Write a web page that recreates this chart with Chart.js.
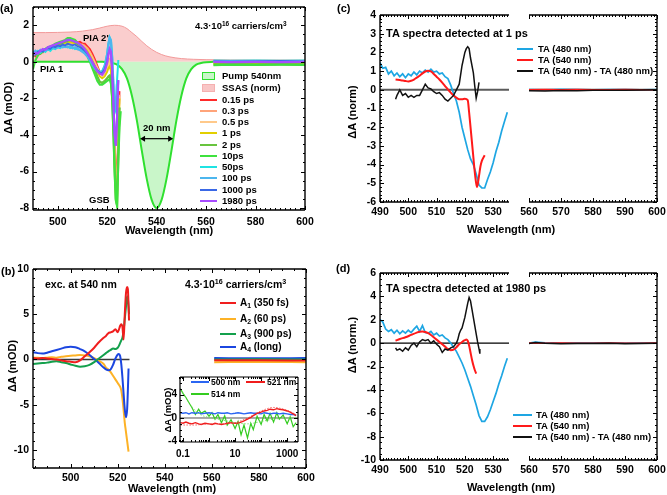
<!DOCTYPE html>
<html><head><meta charset="utf-8">
<script src="https://cdn.jsdelivr.net/npm/chart.js@4.4.1/dist/chart.umd.min.js"></script>
<style>
html,body{margin:0;padding:0;background:#fff}
body{width:667px;height:495px;position:relative;overflow:hidden;font-family:"Liberation Sans",Arial,Helvetica,sans-serif;color:#000}
canvas{position:absolute;left:0;top:0}
.t{position:absolute;white-space:nowrap;font-weight:bold;line-height:1}
.t sup{font-size:0.68em;vertical-align:0.55em;line-height:0}
.t sub{font-size:0.68em;vertical-align:-0.25em;line-height:0}
.ln{position:absolute;height:2px}
.bx{position:absolute;box-sizing:border-box}
</style></head><body>
<canvas id="ca" width="667" height="495"></canvas>
<canvas id="cb" width="667" height="495"></canvas>
<canvas id="cin" width="667" height="495"></canvas>
<canvas id="ccl" width="667" height="495"></canvas>
<canvas id="ccr" width="667" height="495"></canvas>
<canvas id="cdl" width="667" height="495"></canvas>
<canvas id="cdr" width="667" height="495"></canvas>
<script>
// ================= DATA =================
// ---- Panel (a): TA spectra (mOD) at delay times ----
const A_WL = [490,491,492,493,494,495,496,497,498,499,500,501,502,503,504,505,506,507,508,509,510,511,512,513,514,515,516,517,518,519,520,520.5,521,521.5,522,522.5,523,523.5,524,524.5,525,525.5];
const A_015 = [0.45,0.3,0.5,0.45,0.6,0.7,0.65,0.8,0.75,0.85, 0.8,0.95,0.85,1.0,0.95,1.05,1.0,1.1,1.05,1.1, 1.0,1.0,0.85,0.7,0.45,0.15,-0.2,-0.55,-0.75,-0.65, -0.35,-0.1,0.05,-0.2,-0.9,-2.4,-4.3,-5.9,-6.1,-3.8,-1.6,null];
const A_03  = [0.4,0.45,0.35,0.55,0.5,0.65,0.7,0.75,0.7,0.85, 0.9,0.85,0.95,1.0,1.05,1.0,1.05,1.0,1.05,0.95, 0.95,0.85,0.75,0.55,0.3,0.0,-0.3,-0.6,-0.7,-0.6, -0.3,-0.05,0.1,-0.15,-1.0,-2.6,-4.6,-6.3,-6.6,-4.0,-1.8,null];
const A_05  = [0.5,0.4,0.55,0.5,0.65,0.6,0.75,0.7,0.85,0.8, 0.9,0.95,1.0,0.95,1.05,1.1,1.05,1.0,1.0,0.9, 0.9,0.8,0.65,0.45,0.2,-0.1,-0.35,-0.65,-0.75,-0.65, -0.4,-0.15,0.0,-0.3,-1.1,-2.8,-4.9,-6.6,-6.9,-4.2,-1.9,null];
const A_1   = [0.35,0.5,0.45,0.6,0.55,0.7,0.65,0.8,0.85,0.8, 0.95,0.9,1.0,1.05,1.0,1.1,1.05,1.0,0.95,0.95, 0.85,0.75,0.6,0.35,0.1,-0.2,-0.5,-0.8,-0.9,-0.8, -0.55,-0.35,-0.25,-0.5,-1.4,-3.2,-5.4,-7.2,-7.5,-4.5,-2.0,null];
const A_2   = [0.3,0.4,0.5,0.45,0.6,0.7,0.75,0.7,0.85,0.9, 0.95,1.0,1.05,1.1,1.15,1.2,1.15,1.1,1.0,0.9, 0.8,0.65,0.45,0.2,-0.1,-0.45,-0.8,-1.1,-1.15,-1.05, -0.9,-0.8,-0.75,-1.0,-1.8,-3.6,-5.8,-7.5,-7.8,-5.0,-2.5,null];
const A_10  = [-0.4,0.1,0.35,0.5,0.55,0.7,0.8,0.85,0.9,1.0, 1.05,1.1,1.15,1.2,1.3,1.3,1.25,1.2,1.05,0.9, 0.75,0.55,0.3,0.0,-0.35,-0.7,-1.05,-1.25,-1.25,-1.15, -1.05,-1.0,-0.95,-1.2,-2.0,-3.8,-6.0,-7.6,-7.9,-5.5,-3.6,-2.7];
const A_50  = [0.55,0.45,0.6,0.5,0.65,0.55,0.7,0.6,0.75,0.7, 0.8,0.75,0.85,0.8,0.85,0.75,0.8,0.7,0.75,0.65, 0.6,0.5,0.35,0.15,-0.1,-0.3,-0.45,-0.55,-0.5,-0.2, 0.45,1.0,1.35,1.2,0.3,-1.2,-2.5,-2.7,-1.0,0.1,null,null];
const A_100 = [0.45,0.6,0.5,0.65,0.6,0.7,0.65,0.75,0.8,0.75, 0.8,0.85,0.8,0.85,0.8,0.85,0.75,0.8,0.7,0.65, 0.55,0.45,0.3,0.1,-0.15,-0.35,-0.5,-0.6,-0.55,-0.25, 0.4,0.95,1.3,1.15,0.2,-1.3,-2.6,-2.5,-1.2,null,null,null];
const A_1000= [0.5,0.4,0.55,0.6,0.55,0.7,0.75,0.7,0.85,0.8, 0.9,0.85,0.95,0.9,1.0,0.95,0.9,0.95,0.85,0.8, 0.7,0.6,0.45,0.25,0.0,-0.25,-0.45,-0.6,-0.6,-0.4, 0.05,0.45,0.65,0.5,-0.5,-2.2,-3.9,-4.5,-2.8,-1.0,null,null];
const A_1980= [0.35,0.5,0.45,0.6,0.7,0.65,0.8,0.85,0.9,0.95, 1.0,1.05,1.1,1.15,1.2,1.2,1.15,1.1,1.05,0.95, 0.85,0.7,0.5,0.25,0.0,-0.25,-0.5,-0.65,-0.7,-0.5, -0.05,0.4,0.7,0.55,-0.5,-2.3,-4.0,-4.6,-3.0,-1.0,null,null];
const A_TAIL_WL = [563,570,580,590,600];
const A_TAIL = {
  '015':[-0.02,-0.03,-0.02,-0.03,-0.02], '03':[-0.08,-0.07,-0.08,-0.07,-0.08], '05':[-0.05,-0.05,-0.04,-0.05,-0.05],
  '1':[-0.1,-0.09,-0.1,-0.1,-0.09], '2':[-0.14,-0.13,-0.14,-0.13,-0.14], '10':[-0.18,-0.16,-0.17,-0.16,-0.17],
  '50':[0.08,0.06,0.07,0.06,0.07], '100':[0.04,0.03,0.04,0.03,0.04], '1000':[0.02,0.01,0.02,0.05,0.01], '1980':[0.0,-0.01,0.0,-0.01,0.0]
};
const PUMP_WL = [490,500,510,518,520,522,524,526,528,530,532,534,536,538,540,542,544,546,548,550,552,554,556,558,560,563];
const PUMP    = [0,0,0,0,-0.02,-0.06,-0.15,-0.4,-0.9,-1.85,-3.2,-4.85,-6.4,-7.55,-8.0,-7.55,-6.4,-4.85,-3.2,-1.85,-0.9,-0.4,-0.15,-0.06,-0.02,0];
const SSAS_WL = [490,495,500,505,510,514,517,520,523,526,528,530,532,534,536,538,540,542,545,550,555,560,580,600];
const SSAS    = [1.6,1.6,1.61,1.63,1.68,1.76,1.85,1.95,2.0,1.95,1.82,1.6,1.38,1.12,0.88,0.68,0.52,0.4,0.28,0.18,0.14,0.12,0.1,0.1];
const A_XTICKS = [500,520,540,560,580,600];
const A_YTICKS = [-8,-6,-4,-2,0,2];
const A_ARROW = [533.3, 546.7, -4.2];

// ---- Panel (b): decay-associated amplitudes ----
const B_WL = [484,486,488,490,492,494,496,498,500,502,504,506,508,510,512,514,515,516,517,518,519,520,520.5,521,521.5,522,522.5,523,523.5,524,524.3,524.6,524.8];
const B_A1 = [0.15,0.1,0.15,0.1,0.05,0.0,-0.1,-0.2,-0.25,-0.3,-0.1,0.35,0.8,1.3,1.9,2.4,2.6,2.9,3.0,3.1,3.35,3.0,3.3,3.7,3.9,3.6,2.2,5.0,7.3,8.0,7.8,6.0,4.3];
const B_A2 = [0.2,0.2,0.15,0.2,0.25,0.2,0.3,0.35,0.4,0.45,0.5,0.45,0.35,0.15,-0.15,-0.5,-0.9,-1.1,-1.4,-1.8,-2.2,-2.6,-2.8,-3.0,-3.4,-4.3,-5.6,-7.0,-8.0,-9.0,-9.6,-10.2,null];
const B_A3 = [-0.5,-0.45,-0.4,-0.35,-0.25,-0.2,-0.3,-0.4,-0.55,-0.7,-0.8,-0.75,-0.6,-0.3,0.1,0.5,0.7,0.9,1.05,1.2,1.15,1.3,1.5,1.8,2.1,2.4,3.2,4.5,5.8,7.0,6.8,5.8,5.0];
const B_A4 = [0.8,0.7,0.65,0.75,0.9,1.05,1.2,1.35,1.4,1.35,1.15,0.9,0.5,0.05,-0.4,-0.9,-1.1,-1.2,-1.1,-0.6,0.1,0.55,0.6,0.4,-0.5,-2.0,-3.8,-5.5,-6.4,-5.5,-3.5,-1.0,null];
const B_TAIL_WL = [561,580,600];
const B_TAIL_A1 = [-0.1,-0.1,-0.12];
const B_TAIL_A2 = [-0.3,-0.28,-0.3];
const B_TAIL_A3 = [0.0,0.02,0.0];
const B_TAIL_A4 = [0.15,0.13,0.15];
const B_XTICKS = [500,520,540,560,580,600];
const B_YTICKS = [-10,-5,0,5,10];

// ---- Panel (b) inset: kinetics (mOD) vs delay (ps) ----
const IN_T = [0.08,0.1,0.13,0.17,0.22,0.3,0.4,0.5,0.7,1,1.3,1.7,2.2,3,4,5,7,10,13,17,22,30,40,50,70,100,130,170,220,300,400,500,700,1000,1300,1700,2200];
const IN_500 = [0.9,0.8,0.9,0.7,0.9,0.8,0.9,0.7,0.8,0.9,0.8,0.7,0.9,0.8,0.8,0.9,0.7,0.8,0.9,0.8,0.7,0.8,0.9,0.8,0.8,0.7,0.9,0.8,0.7,0.8,0.8,0.7,0.8,0.7,0.6,0.6,0.5];
const IN_521 = [-0.8,-0.9,-0.7,-0.9,-1.0,-0.8,-1.0,-1.1,-0.9,-1.0,-1.1,-0.9,-1.0,-1.1,-1.0,-0.9,-0.8,-0.9,-0.9,-0.7,-0.5,-0.2,0.1,0.4,0.8,1.0,1.2,1.3,1.5,1.4,1.6,1.5,1.4,1.2,1.0,0.7,0.4];
const IN_514 = [5.0,4.2,3.5,2.6,1.8,0.6,1.5,0.8,1.2,0.3,0.9,-0.2,0.6,-0.8,0.4,-1.2,-0.3,-1.8,-0.6,-2.9,-1.2,-3.4,-0.9,-2.0,0.3,-1.1,0.6,-0.5,0.8,-0.7,0.9,-0.2,0.5,-1.0,0.2,-1.5,-0.8];
const IN_FIT_T = [0.08,0.1,0.15,0.2,0.3,0.5,1,3,10,30,100,300,1000,2200];
const IN_FIT_514 = [5.0,4.3,3.0,2.2,1.2,0.5,0.1,-0.3,-0.8,-1.0,-0.6,-0.2,0.0,0.1];
const IN_FIT_521 = [-1.2,-1.2,-1.2,-1.2,-1.2,-1.1,-1.0,-1.0,-0.8,0.0,1.2,1.8,1.3,0.6];
const IN_XTICKS = [0.1,10,1000];
const IN_YTICKS = [-4,0,4];

// ---- Panel (c): TA at 1 ps (norm) ----
const C_BLUE_WL = [490,491,492,493,494,495,496,497,498,499,500,501,502,503,504,505,506,507,508,509,510,511,512,513,514,515,516,517,518,519,520,521,522,523,524,525,526,527,528,529,530,531,532,533,534,535];
const C_BLUE = [1.45,1.15,1.2,0.85,1.0,0.75,0.9,0.7,0.85,0.65, 0.85,0.75,0.95,0.8,1.0,0.9,1.05,0.95,1.1,0.95, 1.0,0.85,0.9,0.7,0.6,0.25,-0.2,-0.6,-1.2,-2.0, -2.6,-3.2,-3.7,-4.0,-4.5,-5.1,-5.25,-5.25,-4.8,-4.4, -3.9,-3.3,-2.8,-2.2,-1.7,-1.2];
const C_RED_WL = [495.5,497,498,499,500,501,502,503,504,505,506,507,508,509,510,511,512,513,514,515,516,517,518,519,520,521,521.5,522,522.5,523,523.5,524,524.3,525,525.5,526,527];
const C_RED = [0.55,0.52,0.5,0.47,0.45,0.48,0.55,0.65,0.75,0.88,0.98,1.02,0.98,0.85,0.7,0.55,0.38,0.2,0.02,-0.15,-0.3,-0.42,-0.5,-0.5,-0.48,-0.55,-1.2,-2.0,-2.8,-3.6,-4.4,-5.0,-5.2,-4.6,-4.1,-3.8,-3.5];
const C_DIFF_WL = [495.5,496,497,498,499,500,501,502,503,504,505,506,507,508,509,510,511,512,513,514,515,516,517,518,519,520,520.5,521,521.5,522,523,523.5,524,524.5,525];
const C_DIFF = [-0.5,-0.3,0.0,-0.3,-0.2,-0.4,-0.3,-0.4,-0.3,-0.3,0.0,0.3,0.1,0.05,-0.1,-0.2,-0.15,-0.3,-0.5,-0.6,-0.45,-0.3,0.0,0.3,1.3,2.0,2.2,2.3,2.2,1.7,0.9,0.2,-0.45,-0.1,0.4];
const C_R_WL = [560,565,570,575,580,585,590,595,600];
const C_R_BLUE = [0.02,0.0,0.03,0.01,0.0,0.02,0.01,0.0,0.02];
const C_R_RED = [0.0,0.01,0.0,0.01,0.0,0.0,0.01,0.0,0.0];
const C_R_DIFF = [-0.05,-0.06,-0.04,-0.05,-0.03,-0.02,-0.02,-0.01,0.0];
const C_XTICKS_L = [490,500,510,520,530];
const C_XTICKS_R = [560,570,580,590,600];
const C_YTICKS = [-6,-5,-4,-3,-2,-1,0,1,2,3,4];

// ---- Panel (d): TA at 1980 ps (norm.) ----
const D_BLUE_WL = C_BLUE_WL;
const D_BLUE = [2.0,1.8,1.2,1.0,1.15,0.85,1.1,0.8,1.05,0.85, 1.1,0.9,1.2,1.45,1.0,1.5,0.9,0.85,1.0,0.7, 0.85,0.6,0.7,0.45,0.3,0.0,-0.35,-0.7,-1.2,-1.7, -2.3,-3.0,-3.7,-4.5,-5.3,-6.2,-6.7,-6.7,-6.3,-5.7, -5.0,-4.3,-3.5,-2.8,-2.0,-1.3];
const D_RED_WL = [495.5,497,499,501,503,504,505,506,507,508,509,510,511,512,513,514,515,516,517,518,519,520,520.5,521,521.5,522,522.5,523,523.5,524];
const D_RED = [0.2,0.35,0.5,0.7,0.9,0.98,1.0,0.95,0.85,0.7,0.5,0.3,0.1,-0.1,-0.3,-0.5,-0.6,-0.55,-0.35,-0.1,0.1,0.25,0.3,0.2,-0.2,-0.8,-1.4,-1.9,-2.3,-2.6];
const D_DIFF_WL = [495.5,496,497,498,499,500,501,502,503,504,505,506,507,508,509,510,511,512,513,514,515,516,517,517.5,518,518.5,519,520,521,521.5,522,522.5,523,523.5,524,524.5,525,525.3];
const D_DIFF = [-0.4,-0.6,-0.5,-0.7,-0.4,-0.6,-0.2,0.0,-0.3,0.1,0.3,0.2,0.3,0.0,0.2,-0.1,-0.3,-0.8,-0.5,-0.6,-0.4,-0.3,0.0,0.3,0.8,1.1,1.3,2.2,3.4,3.9,3.6,2.9,2.2,1.5,0.8,0.1,-0.5,-0.9];
const D_R_WL = [560,562,565,570,575,580,585,590,595,600];
const D_R_BLUE = [0.02,0.1,0.03,0.0,0.02,0.01,0.03,0.0,0.02,0.01];
const D_R_RED = [0.0,0.02,0.0,0.01,-0.01,0.0,0.01,0.0,0.0,0.01];
const D_R_DIFF = [-0.03,0.05,-0.02,-0.05,-0.03,-0.04,-0.02,-0.05,-0.03,-0.02];
const D_YTICKS = [-10,-8,-6,-4,-2,0,2,4,6];

// ================= RENDERING =================
const FONT = '"Liberation Sans", Arial, Helvetica, sans-serif';
Chart.defaults.font.family = FONT;
Chart.defaults.font.weight = 'bold';
Chart.defaults.color = '#000';

const pts = (xs, ys) => xs.map((x, i) => ({x, y: ys[i] === undefined ? null : ys[i]}));
const gap = x => [{x, y: null}];
const range = (a, b, s) => { const r = []; for (let v = a; v <= b + 1e-9; v += s) r.push(+v.toFixed(4)); return r; };

const FRAMES = {};
Chart.register({
  id: 'frame',
  beforeDatasetsDraw(chart) {
    const f = FRAMES[chart.canvas.id]; if (!f || !f.bg) return;
    const a = chart.chartArea, c = chart.ctx;
    c.save(); c.fillStyle = f.bg; c.fillRect(a.left, a.top, a.right - a.left, a.bottom - a.top); c.restore();
  },
  afterDatasetsDraw(chart) {
    const f = FRAMES[chart.canvas.id]; if (!f) return;
    const c = chart.ctx, a = chart.chartArea, xs = chart.scales.x, ys = chart.scales.y;
    const s = f.sides || 'lrtb';
    c.save();
    c.strokeStyle = '#000'; c.fillStyle = '#000';
    c.lineWidth = f.lw || 1.4;
    c.beginPath();
    if (s.includes('l')) { c.moveTo(a.left, a.top); c.lineTo(a.left, a.bottom); }
    if (s.includes('r')) { c.moveTo(a.right, a.top); c.lineTo(a.right, a.bottom); }
    if (s.includes('t')) { c.moveTo(a.left, a.top); c.lineTo(a.right, a.top); }
    if (s.includes('b')) { c.moveTo(a.left, a.bottom); c.lineTo(a.right, a.bottom); }
    c.stroke();
    c.lineWidth = 1;
    c.beginPath();
    const xt = (vals, len) => (vals || []).forEach(v => {
      const p = Math.round(xs.getPixelForValue(v)) + 0.5;
      if (p < a.left - 0.6 || p > a.right + 0.6) return;
      if (s.includes('b')) { c.moveTo(p, a.bottom); c.lineTo(p, a.bottom - len); }
      if (s.includes('t')) { c.moveTo(p, a.top); c.lineTo(p, a.top + len); }
    });
    const yt = (vals, len) => (vals || []).forEach(v => {
      const p = Math.round(ys.getPixelForValue(v)) + 0.5;
      if (p < a.top - 0.6 || p > a.bottom + 0.6) return;
      if (s.includes('l')) { c.moveTo(a.left, p); c.lineTo(a.left + len, p); }
      if (s.includes('r')) { c.moveTo(a.right, p); c.lineTo(a.right - len, p); }
    });
    xt(f.xMinor, 2); xt(f.xMajor, 4); yt(f.yMinor, 2); yt(f.yMajor, 4);
    c.stroke();
    (f.arrows || []).forEach(([x1, x2, yv]) => {
      const p1 = xs.getPixelForValue(x1), p2 = xs.getPixelForValue(x2), py = ys.getPixelForValue(yv);
      c.lineWidth = 1.2;
      c.beginPath(); c.moveTo(p1 + 2, py); c.lineTo(p2 - 2, py); c.stroke();
      c.beginPath(); c.moveTo(p1, py); c.lineTo(p1 + 5, py - 3); c.lineTo(p1 + 5, py + 3); c.closePath(); c.fill();
      c.beginPath(); c.moveTo(p2, py); c.lineTo(p2 - 5, py - 3); c.lineTo(p2 - 5, py + 3); c.closePath(); c.fill();
    });
    c.restore();
  }
});

function axis(s, dir, size) {
  return {
    type: s.type || 'linear', min: s.min, max: s.max,
    grid: {display: false, drawTicks: false}, border: {display: false},
    ticks: {display: s.show !== false, padding: s.pad === undefined ? 4 : s.pad,
      font: {size: s.fs || 10.5, weight: 'bold', family: FONT}, color: '#000',
      autoSkip: false, maxRotation: 0, minRotation: 0, callback: v => String(v)},
    afterBuildTicks: sc => { sc.ticks = s.ticks.map(v => ({value: v})); },
    afterFit: sc => {
      if (dir === 'x') { sc.height = size; sc.paddingLeft = 0; sc.paddingRight = 0; }
      else { sc.width = size; sc.paddingTop = 0; sc.paddingBottom = 0; }
    }
  };
}
function makeChart(id, box, sx, sy, datasets, frame) {
  FRAMES[id] = frame;
  const Wy = 40, Hx = 24;
  return new Chart(document.getElementById(id), {
    type: 'line',
    data: {datasets},
    options: {
      responsive: false, animation: false, devicePixelRatio: 1, events: [],
      layout: {padding: {left: box.l - Wy, top: box.t, right: 667 - box.r, bottom: 495 - box.b - Hx}},
      plugins: {legend: {display: false}, tooltip: {enabled: false}},
      elements: {point: {radius: 0}, line: {borderWidth: 1.5, tension: 0}},
      scales: {x: axis(sx, 'x', Hx), y: axis(sy, 'y', Wy)}
    }
  });
}
const line = (data, color, w, extra) => Object.assign({data, borderColor: color, borderWidth: w || 1.5, fill: false, spanGaps: false}, extra || {});

// ---------- Panel (a) ----------
const A_SERIES = [
  ['0.15 ps', '#ff2a2a', A_015, '015', 1.8],
  ['0.3 ps', '#ffa47a', A_03, '03', 1.8],
  ['0.5 ps', '#ffc98a', A_05, '05', 1.8],
  ['1 ps', '#e2cf00', A_1, '1', 1.8],
  ['2 ps', '#68c43e', A_2, '2', 2.4],
  ['10ps', '#3ee23e', A_10, '10', 2.0],
  ['50ps', '#1fe3e3', A_50, '50', 2.0],
  ['100 ps', '#4cb6ee', A_100, '100', 2.4],
  ['1000 ps', '#3a68e6', A_1000, '1000', 1.8],
  ['1980 ps', '#a84cff', A_1980, '1980', 2.2]
];
const aSets = A_SERIES.map(([lab, col, vals, key, w], i) =>
  line(pts(A_WL, vals).concat(gap(544), pts(A_TAIL_WL, A_TAIL[key])), col, w, {order: 10 - i}));
aSets.push(line(pts(PUMP_WL, PUMP), '#2fe02f', 2, {fill: 'origin', backgroundColor: 'rgba(165,240,165,0.6)', cubicInterpolationMode: 'monotone', order: 20}));
aSets.push(line(pts(SSAS_WL, SSAS), '#f29a9a', 1, {fill: 'origin', backgroundColor: 'rgba(248,188,188,0.75)', cubicInterpolationMode: 'monotone', order: 21}));
makeChart('ca', {l: 33, t: 7, r: 305, b: 210},
  {min: 490, max: 600, ticks: A_XTICKS, pad: 6},
  {min: -8.1, max: 3, ticks: A_YTICKS},
  aSets,
  {xMajor: A_XTICKS, xMinor: range(490, 600, 2), yMajor: A_YTICKS, yMinor: range(-8, 3, 0.5), arrows: [A_ARROW]});

// ---------- Panel (b) ----------
const bSets = [
  line(pts(B_WL, B_A1).concat(gap(540), pts(B_TAIL_WL, B_TAIL_A1)), '#f01e1e', 2, {cubicInterpolationMode: 'monotone', order: 1}),
  line(pts(B_WL, B_A3).concat(gap(540), pts(B_TAIL_WL, B_TAIL_A3)), '#13a04c', 2, {cubicInterpolationMode: 'monotone', order: 2}),
  line(pts(B_WL, B_A4).concat(gap(540), pts(B_TAIL_WL, B_TAIL_A4)), '#1b46e0', 2, {cubicInterpolationMode: 'monotone', order: 3}),
  line(pts(B_WL, B_A2).concat(gap(540), pts(B_TAIL_WL, B_TAIL_A2)), '#fdb226', 2, {cubicInterpolationMode: 'monotone', order: 4}),
  line(pts([484, 525], [0, 0]), '#3a3a3a', 1.5, {order: 9})
];
makeChart('cb', {l: 33, t: 269, r: 306, b: 468},
  {min: 484, max: 600, ticks: B_XTICKS},
  {min: -12, max: 10, ticks: B_YTICKS},
  bSets,
  {xMajor: B_XTICKS, xMinor: range(485, 600, 5), yMajor: B_YTICKS, yMinor: range(-12, 10, 1)});

// ---------- Inset ----------
const inMinor = [];
[0.01, 0.1, 1, 10, 100, 1000].forEach(d => { for (let k = 2; k <= 9; k++) inMinor.push(d * k); });
const inSets = [
  line(pts(IN_FIT_T, IN_FIT_521), 'rgba(240,60,60,0.8)', 1, {borderDash: [1.5, 1.5], cubicInterpolationMode: 'monotone', order: 1}),
  line(pts(IN_FIT_T, IN_FIT_514), 'rgba(120,220,100,0.9)', 1, {borderDash: [1.5, 1.5], cubicInterpolationMode: 'monotone', order: 1}),
  line(pts(IN_T, IN_500), '#2b66f2', 1.4, {order: 3}),
  line(pts(IN_T, IN_521), '#f01c1c', 1.4, {order: 2}),
  line(pts(IN_T, IN_514), '#33cc1f', 1.2, {order: 4}),
  line(pts([0.077, 2600], [0, 0]), '#555', 1, {order: 9})
];
makeChart('cin', {l: 180, t: 377, r: 298, b: 442},
  {type: 'logarithmic', min: 0.077, max: 2600, ticks: IN_XTICKS, fs: 10, pad: 6},
  {min: -4.1, max: 7, ticks: IN_YTICKS, fs: 10, pad: 3},
  inSets,
  {bg: '#fff', lw: 1.2, xMajor: [0.1, 1, 10, 100, 1000], xMinor: inMinor, yMajor: IN_YTICKS, yMinor: range(-4, 7, 1)});

// ---------- Panel (c) ----------
const cL = [
  line(pts(C_DIFF_WL, C_DIFF), '#111', 1.5, {order: 1}),
  line(pts(C_RED_WL, C_RED), '#ff1a1a', 2, {cubicInterpolationMode: 'monotone', order: 2}),
  line(pts(C_BLUE_WL, C_BLUE), '#1ea6e3', 1.7, {order: 3}),
  line(pts([490, 536], [0, 0]), '#5a5a5a', 2, {order: 9})
];
makeChart('ccl', {l: 380, t: 15, r: 509, b: 202},
  {min: 490, max: 535.6, ticks: C_XTICKS_L},
  {min: -6, max: 4, ticks: C_YTICKS},
  cL,
  {sides: 'ltb', xMajor: C_XTICKS_L, xMinor: range(490, 535, 1), yMajor: C_YTICKS, yMinor: range(-6, 4, 0.2)});
const cR = [
  line(pts(C_R_WL, C_R_DIFF), '#111', 1.5, {order: 1}),
  line(pts(C_R_WL, C_R_RED), '#ff1a1a', 1.5, {order: 2}),
  line(pts(C_R_WL, C_R_BLUE), '#1ea6e3', 1.5, {order: 3}),
  line(pts([560, 600], [0, 0]), '#5a5a5a', 2, {order: 9})
];
makeChart('ccr', {l: 529, t: 15, r: 657, b: 202},
  {min: 560, max: 600, ticks: C_XTICKS_R},
  {min: -6, max: 4, ticks: C_YTICKS, show: false},
  cR,
  {sides: 'rtb', xMajor: C_XTICKS_R, xMinor: range(560, 600, 1), yMajor: C_YTICKS, yMinor: range(-6, 4, 0.2)});

// ---------- Panel (d) ----------
const dL = [
  line(pts(D_DIFF_WL, D_DIFF), '#111', 1.5, {order: 1}),
  line(pts(D_RED_WL, D_RED), '#ff1a1a', 2, {cubicInterpolationMode: 'monotone', order: 2}),
  line(pts(D_BLUE_WL, D_BLUE), '#1ea6e3', 1.7, {order: 3}),
  line(pts([490, 536], [0, 0]), '#000', 1.3, {order: 9})
];
makeChart('cdl', {l: 380, t: 273, r: 509, b: 460},
  {min: 490, max: 535.6, ticks: C_XTICKS_L},
  {min: -10, max: 6, ticks: D_YTICKS},
  dL,
  {sides: 'ltb', xMajor: C_XTICKS_L, xMinor: range(490, 535, 1), yMajor: D_YTICKS, yMinor: range(-10, 6, 0.5)});
const dR = [
  line(pts(D_R_WL, D_R_DIFF), '#111', 1.5, {order: 1}),
  line(pts(D_R_WL, D_R_RED), '#ff1a1a', 1.5, {order: 2}),
  line(pts(D_R_WL, D_R_BLUE), '#1ea6e3', 1.5, {order: 3}),
  line(pts([560, 600], [0, 0]), '#000', 1.3, {order: 9})
];
makeChart('cdr', {l: 529, t: 273, r: 657, b: 460},
  {min: 560, max: 600, ticks: C_XTICKS_R},
  {min: -10, max: 6, ticks: D_YTICKS, show: false},
  dR,
  {sides: 'rtb', xMajor: C_XTICKS_R, xMinor: range(560, 600, 1), yMajor: D_YTICKS, yMinor: range(-10, 6, 0.5)});

// ================= TEXT / LEGENDS =================
function T(x, y, html, size, align, rot) {
  const d = document.createElement('div');
  d.className = 't'; d.innerHTML = html;
  d.style.left = x + 'px'; d.style.top = y + 'px'; d.style.fontSize = size + 'px';
  const tx = align === 'c' ? '-50%' : align === 'r' ? '-100%' : '0';
  d.style.transform = 'translate(' + tx + ',-50%)' + (rot ? ' rotate(' + rot + 'deg)' : '');
  document.body.appendChild(d);
}
function L(x1, x2, y, color, h) {
  const d = document.createElement('div');
  d.className = 'ln';
  d.style.left = x1 + 'px'; d.style.width = (x2 - x1) + 'px';
  d.style.top = (y - (h || 2) / 2) + 'px'; d.style.height = (h || 2) + 'px'; d.style.background = color;
  document.body.appendChild(d);
}
function B(x, y, w, h, bg, border) {
  const d = document.createElement('div');
  d.className = 'bx';
  Object.assign(d.style, {left: x + 'px', top: y + 'px', width: w + 'px', height: h + 'px', background: bg, border: border});
  document.body.appendChild(d);
}
const DA = '\u0394A';
// (a)
T(0, 8, '(a)', 11);
T(8, 108, DA + ' (mOD)', 11, 'c', -90);
T(169, 230, 'Wavelength (nm)', 11, 'c');
T(195, 26, '4.3\u00b710<sup>16</sup> carriers/cm<sup>3</sup>', 9.5);
T(83, 38, "PIA 2'", 9.5);
T(40, 69, 'PIA 1', 9.5);
T(89, 200, 'GSB', 9.5);
T(143, 128, '20 nm', 9.5);
B(202, 72, 13, 8, 'rgba(165,240,165,0.6)', '1.5px solid #2fe02f');
T(222, 76, 'Pump 540nm', 9.5);
B(202, 84, 13, 8, 'rgba(248,188,188,0.85)', '1px solid #f5b0b0');
T(222, 88, 'SSAS (norm)', 9.5);
A_SERIES.forEach(([lab, col], i) => { const y = 99.5 + i * 11.25; L(200, 217, y, col, 2); T(222, y, lab, 9.5); });
// (b)
T(1, 271, '(b)', 11);
T(12, 366, DA + ' (mOD)', 11, 'c', -90);
T(172, 488, 'Wavelength (nm)', 11, 'c');
T(45, 284, 'exc. at 540 nm', 10.5);
T(185, 284, '4.3\u00b710<sup>16</sup> carriers/cm<sup>3</sup>', 10.5);
[['A<sub>1</sub> (350 fs)', '#f01e1e', 303], ['A<sub>2</sub> (60 ps)', '#fdb226', 319], ['A<sub>3</sub> (900 ps)', '#13a04c', 334], ['A<sub>4</sub> (long)', '#1b46e0', 347]]
  .forEach(([lab, col, y]) => { L(220, 236, y, col, 2); T(240, y, lab, 10); });
// inset
T(168, 410, DA + ' (mOD)', 9.5, 'c', -90);
L(191, 209, 382, '#2b66f2', 2); T(211, 382, '500 nm', 8.5);
L(246, 265, 382, '#f01c1c', 2); T(267, 382, '521 nm', 8.5);
L(191, 209, 394, '#33cc1f', 2); T(211, 394, '514 nm', 8.5);
// (c)
T(337, 8, '(c)', 11);
T(352, 112, DA + ' (norm)', 11, 'c', -90);
T(511, 229, 'Wavelength (nm)', 11, 'c');
T(386, 33, 'TA spectra detected at 1 ps', 11);
[['TA (480 nm)', '#1ea6e3', 49], ['TA (540 nm)', '#ff1a1a', 60], ['TA (540 nm) - TA (480 nm)', '#111', 71]]
  .forEach(([lab, col, y]) => { L(517, 533, y, col, 2); T(538, y, lab, 9.5); });
// (d)
T(336, 268, '(d)', 11);
T(352, 345, DA + ' (norm.)', 11, 'c', -90);
T(511, 487, 'Wavelength (nm)', 11, 'c');
T(386, 288, 'TA spectra detected at 1980 ps', 11);
[['TA (480 nm)', '#1ea6e3', 415], ['TA (540 nm)', '#ff1a1a', 426], ['TA (540 nm) - TA (480 nm)', '#111', 437]]
  .forEach(([lab, col, y]) => { L(513, 532, y, col, 2); T(536, y, lab, 9.5); });
</script></body></html>
